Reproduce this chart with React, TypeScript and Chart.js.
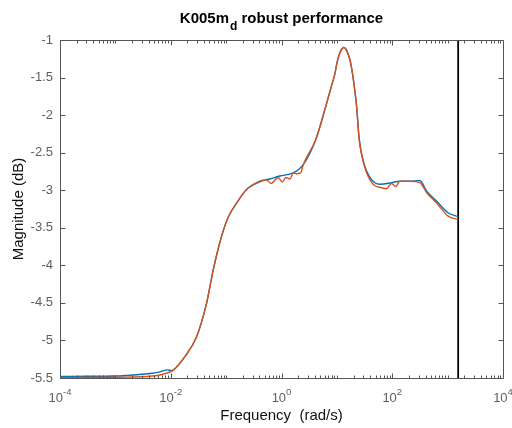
import React, { useEffect, useRef } from "react";
import { Chart, registerables } from "chart.js";

Chart.register(...registerables);

// ---- data (rad/s, dB) ----
const blueFreq = [
  0.0001, 0.000316, 0.001, 0.00158, 0.00422, 0.00638, 0.00865, 0.0104, 0.0111,
  0.018, 0.0293, 0.0445, 0.0585, 0.083, 0.109, 0.155, 0.234, 0.407, 0.617, 0.933,
  1.63, 2.47, 4.18, 6.32, 7.94, 9.2, 10.0, 11.2, 12.3, 13.3, 14.5, 15.8, 17.4, 19.2, 20.9, 22.7, 25.3,
  32.0, 39.4, 48.5, 59.7, 97.0, 137, 208, 315, 416, 631, 1021, 1550,
];
const blueMag = [
  -5.478, -5.477, -5.474, -5.466, -5.44, -5.418, -5.392, -5.402, -5.395,
  -5.215, -4.95, -4.5, -4.06, -3.61, -3.36, -3.17, -2.99, -2.88, -2.85, -2.81,
  -2.77, -2.66, -2.32, -1.88, -1.62, -1.45, -1.31, -1.18, -1.12, -1.1, -1.12, -1.18, -1.28, -1.45, -1.65, -1.88, -2.32,
  -2.68, -2.83, -2.9, -2.92, -2.9, -2.88, -2.88, -2.87, -3.01, -3.145, -3.3, -3.354,
];
const orangeFreq = [
  0.0001, 0.001, 0.00158, 0.00422, 0.00638, 0.0097, 0.0111,
  0.018, 0.0293, 0.0445, 0.0585, 0.083, 0.109, 0.155, 0.234, 0.407, 0.538, 0.644, 0.871,
  1.03, 1.2, 1.42, 1.63, 1.87, 2.21, 2.47, 4.18, 6.32, 7.94, 9.2, 10.0, 11.2, 12.3, 13.3, 14.5, 15.8,
  17.4, 19.2, 20.9, 22.7, 25.3, 32.0, 39.4, 48.5, 59.7, 78.9, 97.0, 116, 137, 208, 315, 416, 631,
  1021, 1550,
];
const orangeMag = [
  -5.495, -5.49, -5.488, -5.477, -5.46, -5.42, -5.395,
  -5.215, -4.95, -4.5, -4.06, -3.61, -3.36, -3.17, -2.99, -2.89, -2.86, -2.91, -2.83,
  -2.89, -2.83, -2.85, -2.77, -2.78, -2.77, -2.66, -2.32, -1.88, -1.62, -1.45, -1.31, -1.18, -1.12, -1.1, -1.12, -1.18,
  -1.28, -1.45, -1.65, -1.88, -2.32, -2.7, -2.86, -2.94, -2.96, -2.98, -2.91, -2.95, -2.88, -2.88, -2.9, -3.03, -3.17,
  -3.345, -3.39,
];
const markerFreq = 1550;

const yMin = -5.5;
const yMax = -1;
const yStep = 0.5;
const xMin = 1e-4;
const xMax = 1e4;
const xLabelExponents = [-4, -2, 0, 2, 4];
const xDecades = [-4, -3, -2, -1, 0, 1, 2, 3];

const titleMain = "K005m";
const titleSub = "d";
const titleRest = " robust performance";
const xAxisTitle = "Frequency  (rad/s)";
const yAxisTitle = "Magnitude (dB)";

const FONT = '"Liberation Sans", Arial, Helvetica, sans-serif';
const AXIS_COLOR = "#555555";
const TICK_TEXT = "#5e5e5e";
const TICK_SIZE = 13;

const decorPlugin = {
  id: "matlabDecor",
  afterDraw(chart: any) {
    const ctx: CanvasRenderingContext2D = chart.ctx;
    const area = chart.chartArea;
    const xs = chart.scales.x;
    const ys = chart.scales.y;
    const L = Math.round(area.left) + 0.5;
    const R = Math.round(area.right) + 0.5;
    const T = Math.round(area.top) + 0.5;
    const B = Math.round(area.bottom) + 0.5;

    ctx.save();
    ctx.strokeStyle = AXIS_COLOR;
    ctx.lineWidth = 1;
    ctx.beginPath();
    ctx.rect(L, T, R - L, B - T);
    for (let v = yMin; v <= yMax + 1e-9; v += yStep) {
      const py = Math.round(ys.getPixelForValue(v)) + 0.5;
      ctx.moveTo(L, py);
      ctx.lineTo(L + 5, py);
      ctx.moveTo(R, py);
      ctx.lineTo(R - 5, py);
    }
    for (const d of xDecades) {
      for (let k = 1; k <= 9; k++) {
        const v = k * Math.pow(10, d);
        const px = Math.round(xs.getPixelForValue(v)) + 0.5;
        const major = k === 1 && xLabelExponents.includes(d);
        const len = major ? 5 : 3;
        ctx.moveTo(px, B);
        ctx.lineTo(px, B - len);
        ctx.moveTo(px, T);
        ctx.lineTo(px, T + len);
      }
    }
    ctx.stroke();

    // x tick labels with superscripts
    ctx.fillStyle = TICK_TEXT;
    ctx.textBaseline = "alphabetic";
    ctx.textAlign = "left";
    const baseFont = `${TICK_SIZE}px ${FONT}`;
    const expFont = `9.5px ${FONT}`;
    for (const e of xLabelExponents) {
      const px = xs.getPixelForValue(Math.pow(10, e));
      ctx.font = baseFont;
      const base = "10";
      const bw = ctx.measureText(base).width;
      ctx.font = expFont;
      const exp = e < 0 ? "-" + String(-e) : String(e);
      const ew = ctx.measureText(exp).width;
      const start = px - (bw + ew) / 2;
      ctx.font = baseFont;
      ctx.fillText(base, start, 402);
      ctx.font = expFont;
      ctx.fillText(exp, start + bw, 395);
    }

    // axis titles
    ctx.fillStyle = "#111111";
    ctx.font = `15px ${FONT}`;
    ctx.textAlign = "center";
    ctx.fillText(xAxisTitle, (area.left + area.right) / 2, 420);
    ctx.save();
    ctx.translate(23, (area.top + area.bottom) / 2);
    ctx.rotate(-Math.PI / 2);
    ctx.fillText(yAxisTitle, 0, 0);
    ctx.restore();

    // title with subscript
    ctx.fillStyle = "#000000";
    ctx.textAlign = "left";
    const bigFont = `bold 15px ${FONT}`;
    const subFont = `bold 12px ${FONT}`;
    ctx.font = bigFont;
    const w1 = ctx.measureText(titleMain).width;
    const w3 = ctx.measureText(titleRest).width;
    ctx.font = subFont;
    const w2 = ctx.measureText(titleSub).width;
    const total = w1 + w2 + w3 + 1;
    const cx = (area.left + area.right) / 2;
    const x0 = cx - total / 2;
    ctx.font = bigFont;
    ctx.fillText(titleMain, x0, 23);
    ctx.font = subFont;
    ctx.fillText(titleSub, x0 + w1 + 1, 29.5);
    ctx.font = bigFont;
    ctx.fillText(titleRest, x0 + w1 + w2 + 1, 23);
    ctx.restore();
  },
};

export default function App() {
  const ref = useRef<HTMLCanvasElement | null>(null);

  useEffect(() => {
    if (!ref.current) return;
    const blue = blueFreq.map((f, i) => ({ x: f, y: blueMag[i] }));
    const orange = orangeFreq.map((f, i) => ({ x: f, y: orangeMag[i] }));
    const marker = [
      { x: markerFreq, y: yMin },
      { x: markerFreq, y: yMax },
    ];
    const chart = new Chart(ref.current, {
      type: "line",
      data: {
        datasets: [
          {
            data: orange,
            borderColor: "#D95319",
            borderWidth: 1.4,
            pointRadius: 0,
            cubicInterpolationMode: "monotone",
            fill: false,
          },
          {
            data: blue,
            borderColor: "#0072BD",
            borderWidth: 1.4,
            pointRadius: 0,
            cubicInterpolationMode: "monotone",
            fill: false,
          },
          {
            data: marker,
            borderColor: "#000000",
            borderWidth: 1.8,
            pointRadius: 0,
            fill: false,
          },
        ],
      },
      options: {
        responsive: false,
        animation: false,
        events: [],
        layout: { padding: { top: 40, right: 9, left: 0, bottom: 0 } },
        plugins: {
          legend: { display: false },
          tooltip: { enabled: false },
          title: { display: false },
        },
        scales: {
          x: {
            type: "logarithmic",
            min: xMin,
            max: xMax,
            grid: { display: false, drawTicks: false },
            border: { display: false },
            ticks: { display: false },
            afterFit: (s: any) => {
              s.height = 50;
            },
          },
          y: {
            type: "linear",
            min: yMin,
            max: yMax,
            grid: { display: false, drawTicks: false },
            border: { display: false },
            ticks: {
              stepSize: yStep,
              padding: 7,
              color: TICK_TEXT,
              font: { family: FONT, size: TICK_SIZE },
              callback: (v: any) => String(Number(v)),
            },
            afterFit: (s: any) => {
              s.width = 60;
            },
          },
        },
      },
      plugins: [decorPlugin],
    } as any);
    return () => chart.destroy();
  }, []);

  return (
    <div style={{ position: "absolute", left: 0, top: 0, width: 512, height: 428, background: "#fff" }}>
      <canvas ref={ref} width={512} height={428} style={{ display: "block" }} />
    </div>
  );
}
